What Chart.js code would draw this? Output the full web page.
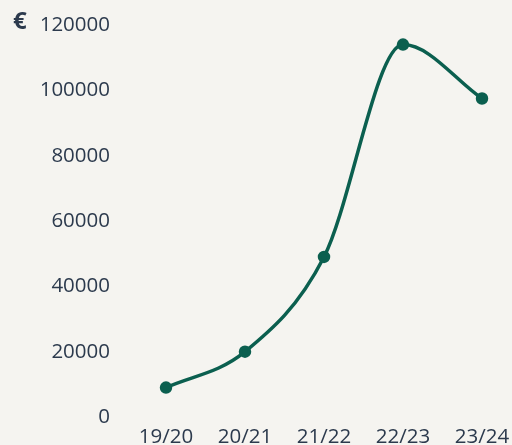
<!DOCTYPE html>
<html>
<head>
<meta charset="utf-8">
<script src="https://cdn.jsdelivr.net/npm/chart.js@4"></script>
<style>
  html, body { margin: 0; padding: 0; background: #f5f4f0; overflow: hidden; }
  #wrap { position: relative; width: 512px; height: 458px; }
  #euro { position: absolute; left: 13px; top: 3px; font: bold 24px "Open Sans", sans-serif; color: #2c3a4d; }
</style>
</head>
<body>
<div id="wrap">
  <canvas id="chart" width="512" height="458"></canvas>
  <span id="euro">€</span>
</div>
<script>
  const seasons = ['19/20', '20/21', '21/22', '22/23', '23/24'];
  const amounts = [9000, 20000, 49000, 114000, 97500];
  const lineColor = '#0b5f4f';
  const textColor = '#2c3a4d';

  const ctx = document.getElementById('chart').getContext('2d');
  new Chart(ctx, {
    type: 'line',
    data: {
      labels: seasons,
      datasets: [{
        data: amounts,
        borderColor: lineColor,
        backgroundColor: lineColor,
        borderWidth: 3.5,
        cubicInterpolationMode: 'monotone',
        pointRadius: 4.5,
        pointHoverRadius: 4.5,
        fill: false
      }]
    },
    options: {
      responsive: false,
      animation: false,
      layout: { padding: { left: 42, right: 30, top: 25, bottom: 9 } },
      plugins: { legend: { display: false }, tooltip: { enabled: false } },
      scales: {
        x: {
          offset: false,
          grid: { display: false },
          border: { display: false },
          ticks: { color: textColor, padding: 0, maxRotation: 0, autoSkip: false, font: { family: 'Open Sans', size: 20.5 } },
          afterFit: s => { s.paddingLeft = 0; s.paddingRight = 0; s.height = 32; }
        },
        y: {
          min: 0,
          max: 120000,
          grid: { display: false },
          border: { display: false },
          ticks: {
            stepSize: 20000,
            color: textColor,
            padding: 48,
            font: { family: 'Open Sans', size: 20.5 },
            callback: v => String(v)
          },
          afterFit: s => { s.paddingTop = 0; s.paddingBottom = 0; s.width = 124; }
        }
      }
    }
  });
</script>
</body>
</html>
